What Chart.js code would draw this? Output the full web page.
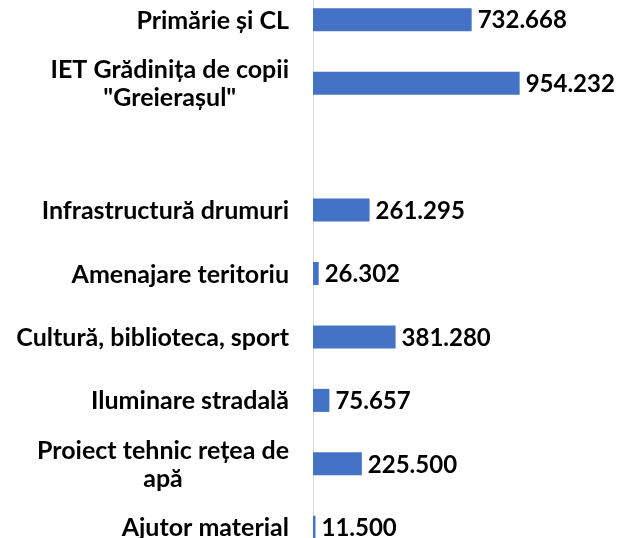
<!DOCTYPE html>
<html>
<head>
<meta charset="utf-8">
<script src="https://cdn.jsdelivr.net/npm/chart.js@4.4.0/dist/chart.umd.min.js"></script>
<style>
  html, body { margin: 0; padding: 0; background: #fff; overflow: hidden; }
  #wrap { position: absolute; left: 0; top: -12px; width: 627px; height: 571px; }
</style>
</head>
<body>
<div id="wrap"><canvas id="chart"></canvas></div>
<script>
// categories (multi-line ones as arrays), empty one is the gap row
const categories = [
  'Primărie și CL',
  ['IET Grădinița de copii', '"Greierașul"'],
  '',
  'Infrastructură drumuri',
  'Amenajare teritoriu',
  'Cultură, biblioteca, sport',
  'Iluminare stradală',
  ['Proiect tehnic rețea de', 'apă'],
  'Ajutor material'
];
const values = [732668, 954232, null, 261295, 26302, 381280, 75657, 225500, 11500];

const CAT_FONT = 'bold 25px Lato';
const VAL_FONT = 'bold 24px Lato';
const fmt = v => String(v).replace(/\B(?=(\d{3})+(?!\d))/g, '.');

// value labels next to the bars + category labels (multi-line centered)
const labelsPlugin = {
  id: 'labels',
  afterDatasetsDraw(chart) {
    const ctx = chart.ctx;
    const yScale = chart.scales.y;
    ctx.save();
    ctx.fillStyle = '#000';
    ctx.textBaseline = 'middle';

    // values
    ctx.font = VAL_FONT;
    ctx.textAlign = 'left';
    chart.getDatasetMeta(0).data.forEach((bar, i) => {
      if (values[i] == null) return;
      ctx.fillText(fmt(values[i]), bar.x + 6, bar.y + 1);
    });

    // categories
    ctx.font = CAT_FONT;
    const right = chart.chartArea.left - 24;
    const lineH = 28;
    categories.forEach((c, i) => {
      const lines = Array.isArray(c) ? c : [c];
      const y = yScale.getPixelForValue(i);
      const w = Math.max(...lines.map(l => ctx.measureText(l).width));
      const cx = right - w / 2;
      ctx.textAlign = 'center';
      lines.forEach((l, k) => {
        ctx.fillText(l, cx, y + 1 + (k - (lines.length - 1) / 2) * lineH);
      });
    });
    ctx.restore();
  }
};

new Chart(document.getElementById('chart'), {
  type: 'bar',
  data: {
    labels: categories,
    datasets: [{
      data: values,
      backgroundColor: '#4472C4',
      barPercentage: 0.363,
      categoryPercentage: 1
    }]
  },
  options: {
    indexAxis: 'y',
    responsive: true,
    maintainAspectRatio: false,
    animation: false,
    layout: { padding: { left: 313, right: 0, top: 0, bottom: 0 } },
    plugins: { legend: { display: false }, tooltip: { enabled: false } },
    scales: {
      x: { display: false, min: 0, max: 1450000 },
      y: {
        afterFit: s => { s.width = 0; },
        ticks: { display: false },
        grid: { display: false },
        border: { display: true, color: '#d9d9d9', width: 1 }
      }
    }
  },
  plugins: [labelsPlugin]
});
</script>
</body>
</html>
